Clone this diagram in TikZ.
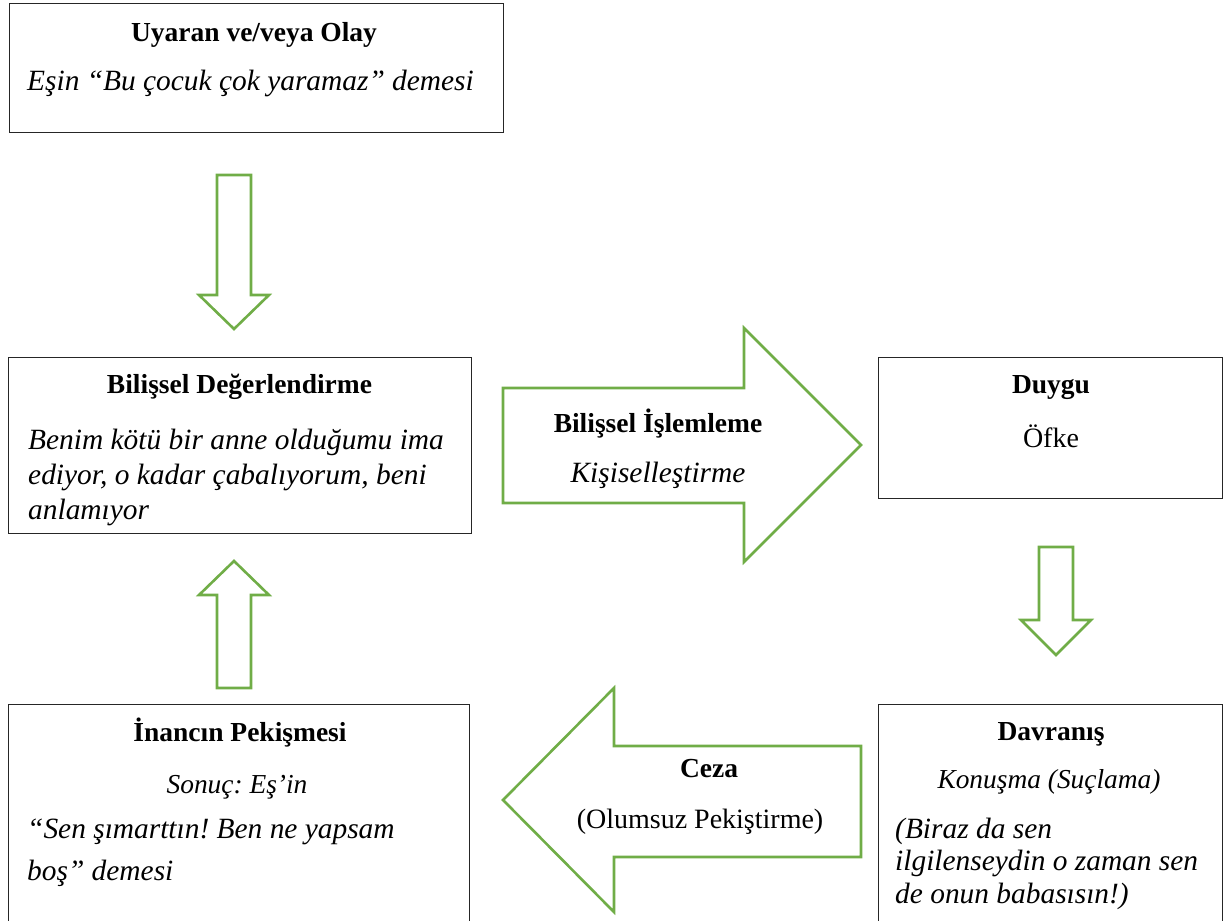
\documentclass[tikz,border=0pt]{standalone}
\usepackage{fontspec}
\setmainfont{Liberation Serif}
\frenchspacing
\definecolor{agreen}{HTML}{70AD47}
\definecolor{boxline}{HTML}{262626}
\begin{document}
\begin{tikzpicture}[x=1pt,y=-1pt,
  box/.style={draw=boxline, line width=1.3pt, inner sep=0pt, anchor=north west},
  blockarrow/.style={draw=agreen, line width=2.6pt, line join=miter, fill=white},
  txt/.style={inner sep=0pt, font=\fontsize{28}{35}\selectfont},
  head/.style={txt, font=\fontsize{27.5}{35}\selectfont\bfseries, anchor=base},
  ital/.style={txt, font=\fontsize{29.4}{35}\selectfont\itshape},
  subital/.style={txt, font=\fontsize{27.4}{35}\selectfont\itshape, anchor=base},
  rom/.style={txt, anchor=base}
]
\useasboundingbox (0,0) rectangle (1230,920);
\clip (0,0) rectangle (1230,920);

% boxes
\node[box, minimum width=494pt, minimum height=129pt] (olay) at (9,3) {};
\node[box, minimum width=463pt, minimum height=176pt] (bilis) at (8,357) {};
\node[box, minimum width=344pt, minimum height=141pt] (duygu) at (878,357) {};
\node[box, minimum width=344pt, minimum height=260pt] (davr) at (878,704) {};
\node[box, minimum width=461pt, minimum height=260pt] (inanc) at (8,704) {};

% block arrows
\draw[blockarrow] (217,175) -- (251,175) -- (251,295) -- (269,295) -- (234,329)
  -- (199,295) -- (217,295) -- cycle;
\draw[blockarrow] (503,388) -- (744,388) -- (744,328) -- (861,445) -- (744,562)
  -- (744,503) -- (503,503) -- cycle;
\draw[blockarrow] (1039,547) -- (1073,547) -- (1073,620) -- (1091,620) -- (1056,655)
  -- (1021,620) -- (1039,620) -- cycle;
\draw[blockarrow] (861,746) -- (614,746) -- (614,688) -- (503,800) -- (614,912)
  -- (614,857) -- (861,857) -- cycle;
\draw[blockarrow] (217,688) -- (217,595) -- (199,595) -- (234,561) -- (269,595)
  -- (251,595) -- (251,688) -- cycle;

% texts: Uyaran
\node[head] (olayH) at (254,42) {Uyaran ve/veya Olay};
\node[ital, anchor=base west] (olayB) at (27,91) {Eşin “Bu çocuk çok yaramaz” demesi};

% Bilissel Degerlendirme
\node[head] (bilisH) at (239.5,393) {Bilişsel Değerlendirme};
\node[ital, anchor=base west] (bilisL1) at (28,449) {Benim kötü bir anne olduğumu ima};
\node[ital, anchor=base west] (bilisL2) at (28,484) {ediyor, o kadar çabalıyorum, beni};
\node[ital, anchor=base west] (bilisL3) at (28,519) {anlamıyor};

% Bilissel Islemleme
\node[head] (islemH) at (658,432) {Bilişsel İşlemleme};
\node[ital, anchor=base] (islemB) at (658,482) {Kişiselleştirme};

% Duygu
\node[head] (duyguH) at (1051,393) {Duygu};
\node[rom] (duyguB) at (1051,447) {Öfke};

% Davranis
\node[head] (davrH) at (1051,740) {Davranış};
\node[subital] (davrB) at (1049,788) {Konuşma (Suçlama)};
\node[ital, anchor=base west] (davrL1) at (895,838) {(Biraz da sen};
\node[ital, anchor=base west] (davrL2) at (895,870) {ilgilenseydin o zaman sen};
\node[ital, anchor=base west] (davrL3) at (895,903) {de onun babasısın!)};

% Ceza
\node[head] (cezaH) at (709,777) {Ceza};
\node[rom] (cezaB) at (700,828) {(Olumsuz Pekiştirme)};

% Inancin Pekismesi
\node[head] (inancH) at (240,741) {İnancın Pekişmesi};
\node[subital] (inancB) at (237,793) {Sonuç: Eş’in};
\node[ital, anchor=base west] (inancL1) at (27,838) {“Sen şımarttın! Ben ne yapsam};
\node[ital, anchor=base west] (inancL2) at (27,880) {boş” demesi};
\end{tikzpicture}
\end{document}
